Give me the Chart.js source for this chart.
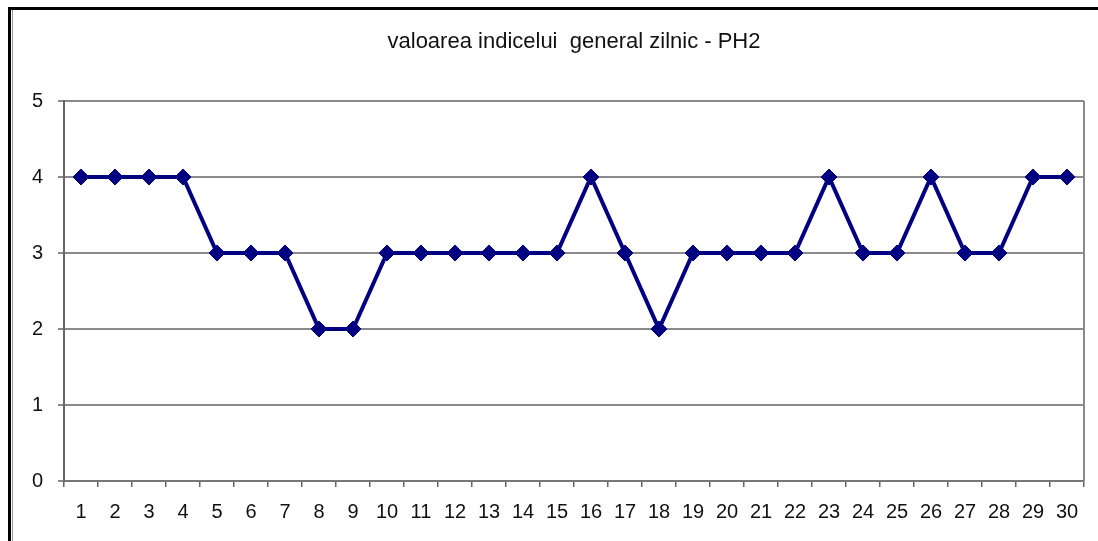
<!DOCTYPE html>
<html>
<head>
<meta charset="utf-8">
<script src="https://cdn.jsdelivr.net/npm/chart.js@4/dist/chart.umd.min.js"></script>
<style>
    body { margin: 0; background: #fff; overflow: hidden; }
    #wrap { position: relative; width: 1098px; height: 541px; }
    #frame { position: absolute; left: 8px; top: 7px; width: 1100px; height: 540px; border-top: 3px solid #000; border-left: 3px solid #000; }
    #frame2 { position: absolute; left: 12px; top: 10px; width: 1px; height: 540px; background: #999; }
    canvas { position: absolute; left: 0; top: 0; }
</style>
</head>
<body>
<div id="wrap">
    <div id="frame"></div>
    <div id="frame2"></div>
    <canvas id="chart" width="1098" height="541"></canvas>
</div>
<script>
let days = ["1", "2", "3", "4", "5", "6", "7", "8", "9", "10", "11", "12", "13", "14", "15",
    "16", "17", "18", "19", "20", "21", "22", "23", "24", "25", "26", "27", "28", "29", "30"]
let indexValues = [4, 4, 4, 4, 3, 3, 3, 2, 2, 3, 3, 3, 3, 3, 3, 4, 3, 2, 3, 3, 3, 3, 4, 3, 3, 4, 3, 3, 4, 4]
let chartTitle = "valoarea indicelui  general zilnic - PH2"

let fontName = "'Liberation Sans', Arial, sans-serif"

// right edge of the plot frame (the other three sides come from the axes)
let rightEdge = {
    id: "rightEdge",
    afterDraw(chart) {
        let a = chart.chartArea
        let ctx = chart.ctx
        ctx.save()
        ctx.strokeStyle = "#8a8a8a"
        ctx.lineWidth = 2
        ctx.beginPath()
        ctx.moveTo(a.right, a.top)
        ctx.lineTo(a.right, a.bottom)
        ctx.stroke()
        ctx.restore()
    }
}

let chart = new Chart(document.getElementById("chart"), {
    type: "line",
    data: {
        labels: days,
        datasets: [{
            data: indexValues,
            borderColor: "#000080",
            backgroundColor: "#000080",
            borderWidth: 4,
            pointStyle: "rectRot",
            pointRadius: 8,
            pointBorderWidth: 1,
            tension: 0
        }]
    },
    options: {
        responsive: false,
        animation: false,
        layout: {padding: {left: 0, right: 14, top: 0, bottom: 0}},
        plugins: {
            legend: {display: false},
            tooltip: {enabled: false},
            title: {
                display: true,
                fullSize: false,
                text: chartTitle,
                color: "#111",
                font: {family: fontName, size: 22, weight: "normal", lineHeight: 1.2},
                padding: {top: 29, bottom: 45.6}
            }
        },
        scales: {
            x: {
                offset: true,
                grid: {display: true, drawOnChartArea: false, drawTicks: true, tickLength: 6, offset: true, color: "#666", lineWidth: 1.5},
                border: {display: true, color: "#777", width: 2},
                ticks: {color: "#111", font: {family: fontName, size: 20}, padding: 13, maxRotation: 0, autoSkip: false},
                afterFit(scale) { scale.height = 60 }
            },
            y: {
                min: 0,
                max: 5,
                grid: {color: "#8a8a8a", lineWidth: 2, tickLength: 6},
                border: {display: true, color: "#666", width: 2},
                ticks: {stepSize: 1, color: "#111", font: {family: fontName, size: 20}, padding: 15},
                afterFit(scale) { scale.width = 64 }
            }
        }
    },
    plugins: [rightEdge]
})
</script>
</body>
</html>
